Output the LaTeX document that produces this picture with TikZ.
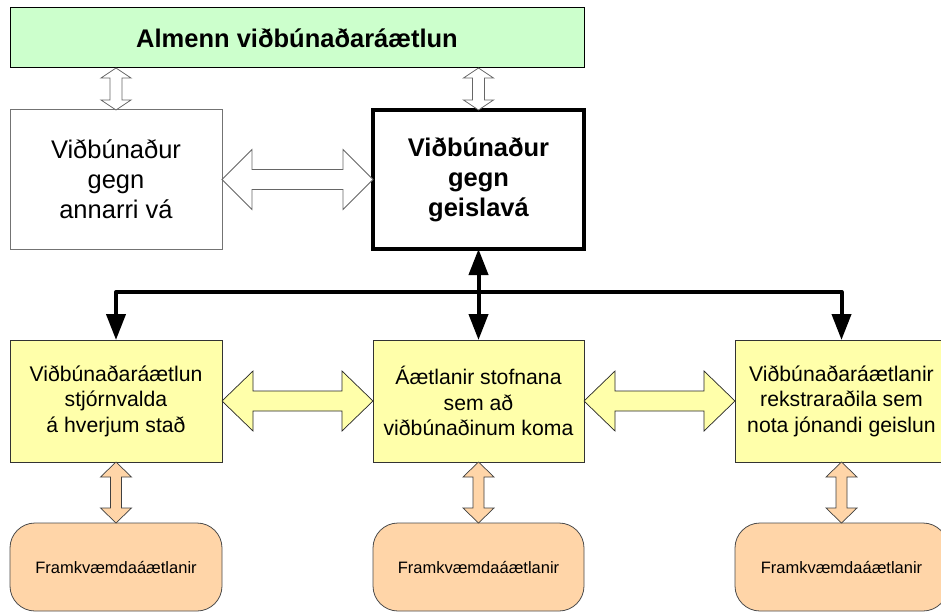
\documentclass[tikz,border=0pt]{standalone}
\usepackage{fontspec}
\setmainfont{Liberation Sans}
\usetikzlibrary{arrows.meta,calc}
\definecolor{gfill}{HTML}{CCFFCC}
\definecolor{yfill}{HTML}{FFFFAA}
\definecolor{pfill}{HTML}{FFD5A8}
\newcommand{\vdarr}[6]{\path[#1] let \p1=(#2), \p2=(#3) in (\x1,\y1) -- (\x1+#4,\y1-#6) -- (\x1+#5,\y1-#6) -- (\x1+#5,\y2+#6) -- (\x1+#4,\y2+#6) -- (\x1,\y2) -- (\x1-#4,\y2+#6) -- (\x1-#5,\y2+#6) -- (\x1-#5,\y1-#6) -- (\x1-#4,\y1-#6) -- cycle;}
\newcommand{\hdarr}[6]{\path[#1] let \p1=(#2), \p2=(#3) in (\x1,\y1) -- (\x1+#6,\y1+#4) -- (\x1+#6,\y1+#5) -- (\x2-#6,\y1+#5) -- (\x2-#6,\y1+#4) -- (\x2,\y1) -- (\x2-#6,\y1-#4) -- (\x2-#6,\y1-#5) -- (\x1+#6,\y1-#5) -- (\x1+#6,\y1-#4) -- cycle;}
\begin{document}
\begin{tikzpicture}[x=1pt,y=-1pt,
  base/.style={draw, align=center, anchor=north west, inner sep=2pt, outer sep=0pt},
  topbox/.style={base, fill=gfill, draw=black, line width=1pt, font=\bfseries\fontsize{25.5}{30}\selectfont},
  plainbox/.style={base, fill=white, draw=black!55, line width=1pt, font=\fontsize{25.5}{30}\selectfont},
  mainbox/.style={base, fill=white, draw=black, line width=3.5pt, font=\bfseries\fontsize{25.5}{30}\selectfont},
  ybox/.style={base, fill=yfill, draw=black!80, line width=0.8pt, font=\fontsize{21.2}{25.5}\selectfont},
  pbox/.style={base, fill=pfill, draw=black!70, rounded corners=25pt, line width=0.8pt, font=\fontsize{16.5}{19}\selectfont},
  whitearr/.style={draw=black!60, fill=white, line width=0.8pt},
  yarr/.style={draw=black!85, fill=yfill, line width=0.7pt},
  parr/.style={draw=black!75, fill=pfill, line width=0.7pt},
  busline/.style={line width=4pt, line join=round, -{Triangle[width=19pt,length=26pt]}},
  busboth/.style={line width=4pt, {Triangle[width=19pt,length=26pt]}-{Triangle[width=19pt,length=26pt]}}
]
\useasboundingbox (0,0) rectangle (941,612);
\fill[white] (0,0) rectangle (941,612);

\node[topbox, minimum width=574pt, minimum height=60pt] (T) at (10,8) {Almenn viðbúnaðaráætlun};
\node[plainbox, minimum width=212pt, minimum height=139pt] (L) at (10,110) {Viðbúnaður\\gegn\\annarri vá};
\node[mainbox, minimum width=211pt, minimum height=139pt] (C) at (373,110) {Viðbúnaður\\gegn\\geislavá};

\node[ybox, minimum width=212pt, minimum height=122pt] (Y1) at (10,340) {Viðbúnaðaráætlun\\stjórnvalda\\á hverjum stað};
\node[ybox, minimum width=211pt, minimum height=122pt] (Y2) at (373,340) {Áætlanir stofnana\\sem að\\viðbúnaðinum koma};
\node[ybox, minimum width=213pt, minimum height=122pt] (Y3) at (735,340) {Viðbúnaðaráætlanir\\rekstraraðila sem\\nota jónandi geislun};

\node[pbox, minimum width=212pt, minimum height=88pt] (R1) at (10,523) {Framkvæmdaáætlanir};
\node[pbox, minimum width=211pt, minimum height=88pt] (R2) at (373,523) {Framkvæmdaáætlanir};
\node[pbox, minimum width=213pt, minimum height=88pt] (R3) at (735,523) {Framkvæmdaáætlanir};

% white block arrows
\vdarr{whitearr}{L.north |- T.south}{L.north}{15pt}{6pt}{10pt}
\vdarr{whitearr}{C.north |- T.south}{C.north}{15pt}{6pt}{10pt}
\hdarr{whitearr}{L.east}{C.west}{30pt}{10pt}{30pt}

% yellow block arrows
\hdarr{yarr}{Y1.east}{Y2.west}{30pt}{10pt}{31pt}
\hdarr{yarr}{Y2.east}{Y3.west}{30pt}{10pt}{31pt}

% peach block arrows
\vdarr{parr}{Y1.south}{R1.north}{15.5pt}{5.5pt}{15pt}
\vdarr{parr}{Y2.south}{R2.north}{15.5pt}{5.5pt}{15pt}
\vdarr{parr}{Y3.south}{R3.north}{15.5pt}{5.5pt}{15pt}

% thick bus
\coordinate (bus) at (478,292);
\draw[busline] (Y3.north |- bus) -| (Y1.north);
\draw[busline] (Y1.north |- bus) -| (Y3.north);
\draw[busboth] (C.south) -- (Y2.north);
\end{tikzpicture}
\end{document}
